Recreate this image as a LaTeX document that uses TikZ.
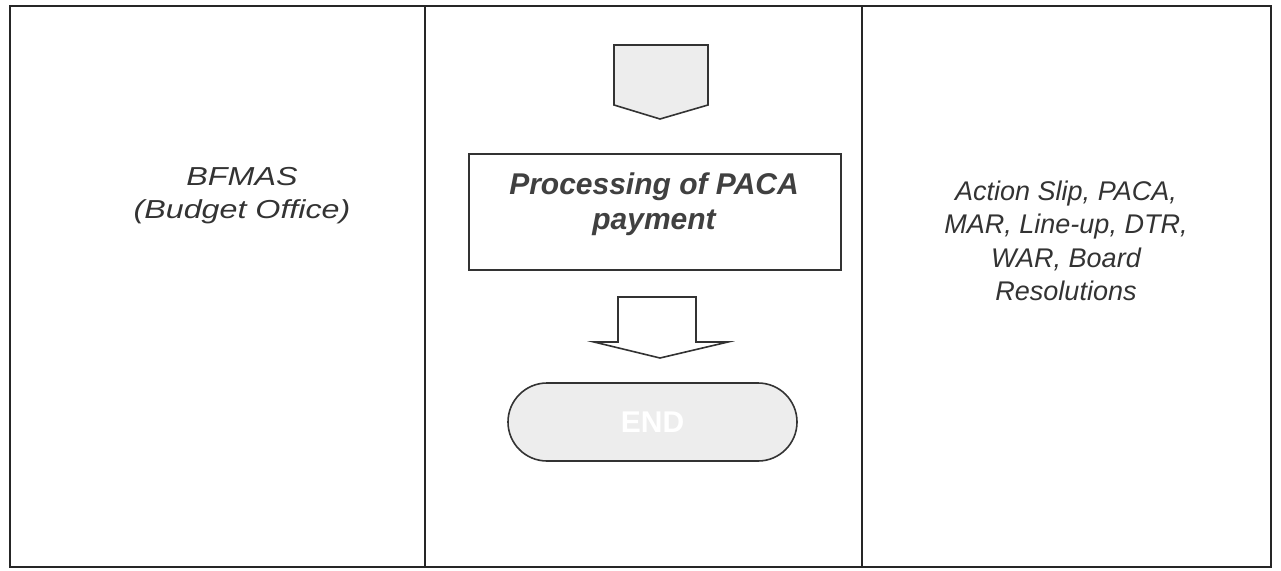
\documentclass[tikz,border=0pt]{standalone}
\usepackage{fontspec}
\setmainfont{Liberation Sans}
\newfontfamily\widesans[FakeStretch=1.24]{Liberation Sans}
\begin{document}
\begin{tikzpicture}[x=1pt,y=-1pt,
  frame/.style={draw=black!85,line width=1.3pt},
  shapeline/.style={draw=black!80,line width=1.6pt,line join=miter},
  celltext/.style={align=center,text=black!80,font=\fontsize{27}{33.5}\selectfont\itshape},
  widetext/.style={align=center,text=black!80,font=\widesans\fontsize{26}{33}\selectfont\itshape},
  procbox/.style={shapeline,fill=white,minimum width=372pt,minimum height=116pt},
  proclabel/.style={align=center,text=black!75,font=\fontsize{30}{35}\selectfont\bfseries\itshape},
  endbox/.style={shapeline,fill=black!7,rounded corners=39pt,minimum width=289pt,
    minimum height=78pt,text=white,font=\fontsize{30}{34}\selectfont\bfseries}]
\useasboundingbox (0,0) rectangle (1281,570);
% table frame and column rules
\coordinate (tl) at (10,6);
\coordinate (br) at (1271,567);
\draw[frame] (tl) rectangle (br);
\coordinate (c1t) at (425,6);  \coordinate (c1b) at (425,567);
\coordinate (c2t) at (862,6);  \coordinate (c2b) at (862,567);
\draw[frame] (c1t) -- (c1b);
\draw[frame] (c2t) -- (c2b);
% cell texts
\node[widetext] (office) at (242,196) {BFMAS\\(Budget Office)};
\node[celltext] (docs) at (1066,241) {Action Slip, PACA,\\MAR, Line-up, DTR,\\WAR, Board\\Resolutions};
% off-page connector
\draw[shapeline,fill=black!7] (614,45) -- (708,45) -- (708,105) -- (660,119) -- (614,105) -- cycle;
% process step
\node[procbox] (proc) at (655,212) {};
\node[proclabel] (proctext) at (654,204) {Processing of PACA\\payment};
% block arrow
\draw[shapeline,fill=white] (618,297) -- (696,297) -- (696,342) -- (728,342) -- (660,358)
  -- (594,342) -- (618,342) -- cycle;
% terminator
\node[endbox] (end) at (652.5,422) {END};
\end{tikzpicture}
\end{document}
